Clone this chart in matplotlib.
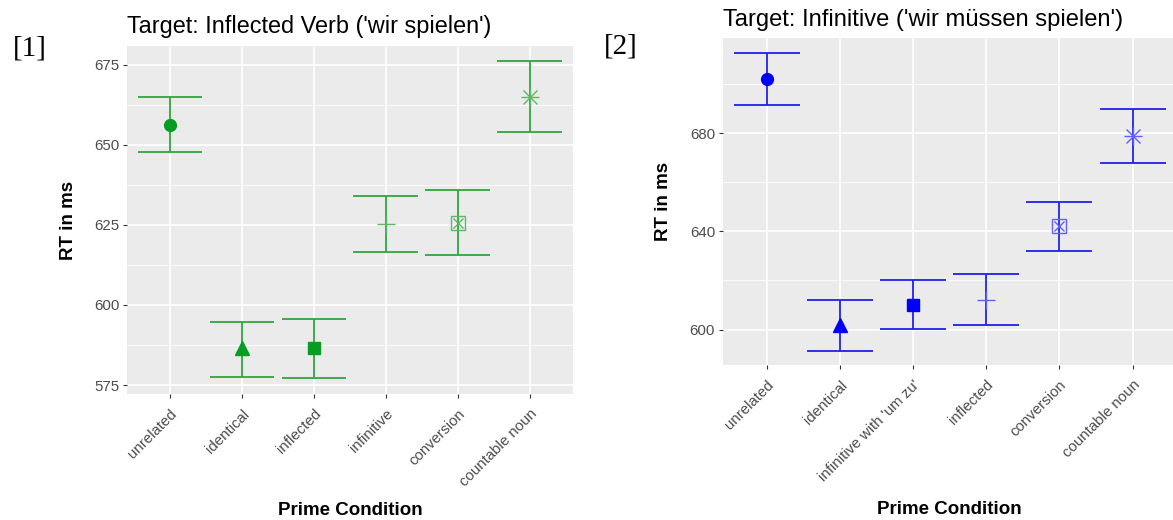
import matplotlib
matplotlib.use("Agg")
import matplotlib.pyplot as plt
import numpy as np

# panel 1: target = inflected verb
conditions_1 = ["unrelated", "identical", "inflected", "infinitive",
                "conversion", "countable noun"]
mean_1 = [656.3, 586.5, 586.5, 625.2, 625.5, 664.9]
upper_1 = [665.1, 594.6, 595.6, 634.1, 635.8, 676.1]
lower_1 = [647.9, 577.5, 577.1, 616.5, 615.6, 653.9]
yticks_1 = [575, 600, 625, 650, 675]
yminor_1 = [587.5, 612.5, 637.5, 662.5]

# panel 2: target = infinitive
conditions_2 = ["unrelated", "identical", "infinitive with 'um zu'",
                "inflected", "conversion", "countable noun"]
mean_2 = [702.0, 601.8, 609.9, 612.2, 642.2, 678.8]
upper_2 = [712.9, 612.0, 620.0, 622.6, 652.2, 690.0]
lower_2 = [691.7, 591.2, 600.1, 601.8, 632.0, 668.0]
yticks_2 = [600, 640, 680]
yminor_2 = [620, 660, 700]

SANS = "Liberation Sans"
SERIF = "Liberation Serif"
plt.rcParams["font.family"] = SANS


def draw_marker(ax, x, y, shape, color, light):
    if shape == "circle":
        ax.plot(x, y, "o", ms=8.5, color=color, mec=color, zorder=4)
    elif shape == "triangle":
        ax.plot(x, y, "^", ms=9.5, color=color, mec=color, zorder=4)
    elif shape == "square":
        ax.plot(x, y, "s", ms=8, color=color, mec=color, zorder=4)
    elif shape == "plus":
        ax.plot(x, y, "+", ms=13.5, mew=1.0, color=light, zorder=4)
    elif shape == "boxx":
        ax.plot(x, y, "s", ms=9.5, mfc="none", mew=1.0, mec=light, zorder=4)
        ax.plot(x, y, "x", ms=7.5, mew=1.0, color=light, zorder=4)
    elif shape == "star":
        ax.plot(x, y, "+", ms=13.5, mew=1.0, color=light, zorder=4)
        ax.plot(x, y, "x", ms=9.5, mew=1.0, color=light, zorder=4)


def draw_panel(ax, labels, means, lows, highs, yticks, yminor, ylim,
               bar_color, mark_color, light_color, title, title_size):
    x = np.arange(1, len(labels) + 1)
    ax.set_facecolor("#EBEBEB")
    for s in ax.spines.values():
        s.set_visible(False)
    ax.set_axisbelow(True)

    ax.vlines(x, lows, highs, color=bar_color, lw=1.3, zorder=3)
    ax.hlines(lows, x - 0.45, x + 0.45, color=bar_color, lw=1.3, zorder=3)
    ax.hlines(highs, x - 0.45, x + 0.45, color=bar_color, lw=1.3, zorder=3)

    shapes = ["circle", "triangle", "square", "plus", "boxx", "star"]
    for xi, yi, sh in zip(x, means, shapes):
        draw_marker(ax, xi, yi, sh, mark_color, light_color)

    ax.set_xlim(0.4, 6.6)
    ax.set_ylim(*ylim)
    ax.set_xticks(x)
    ax.set_xticklabels(labels, rotation=45, ha="right", va="top",
                       rotation_mode="anchor")
    ax.set_yticks(yticks)
    ax.set_yticks(yminor, minor=True)
    ax.tick_params(which="major", length=3, width=0.8, color="#333333",
                   labelcolor="#4D4D4D", labelsize=10.8, pad=2.5)
    ax.tick_params(axis="x", which="major", pad=6)
    ax.tick_params(which="minor", length=0)
    ax.grid(which="major", color="white", lw=1.2)
    ax.grid(which="minor", axis="y", color="white", lw=0.6)

    ax.set_title(title, loc="left", fontsize=title_size, pad=9)
    ax.set_ylabel("RT in ms", fontsize=13.5, fontweight="bold")
    ax.set_xlabel("Prime Condition", fontsize=13.5, fontweight="bold")


fig = plt.figure(figsize=(11.73, 5.2), dpi=100)
W, H = 1173.0, 520.0

ax1 = fig.add_axes([126.8 / W, 1 - 394.3 / H, 446.2 / W, 348.3 / H])
draw_panel(ax1, conditions_1, mean_1, lower_1, upper_1, yticks_1, yminor_1,
           (572.1, 680.9), "#2ea63a", "#079c22", "#5cb862",
           "Target: Inflected Verb ('wir spielen')", 16.9)
ax1.yaxis.set_label_coords(-0.112, 0.5)
ax1.xaxis.set_label_coords(0.5, -0.335)
ax1.xaxis.label.set_va("center")

ax2 = fig.add_axes([722.7 / W, 1 - 365.3 / H, 453.8 / W, 327.0 / H])
draw_panel(ax2, conditions_2, mean_2, lower_2, upper_2, yticks_2, yminor_2,
           (585.4, 718.8), "#2020ee", "#0000ff", "#6060ff",
           "Target: Infinitive ('wir müssen spielen')", 17.1)
ax2.yaxis.set_label_coords(-0.112, 0.5)
ax2.xaxis.set_label_coords(0.5, -0.442)
ax2.xaxis.label.set_va("center")

fig.text(13 / W, 1 - 49 / H, "[1]", family=SERIF, fontsize=21,
         va="center", ha="left")
fig.text(604 / W, 1 - 47 / H, "[2]", family=SERIF, fontsize=21,
         va="center", ha="left")

fig.savefig("out.png", dpi=100)
